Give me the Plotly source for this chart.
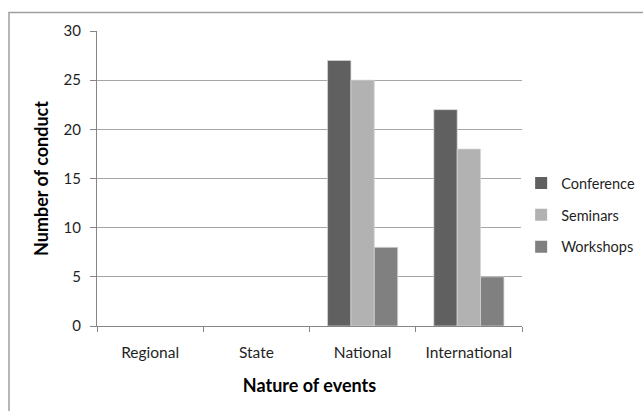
import plotly.graph_objects as go

categories = ["Regional", "State", "National", "International"]
conference = [0, 0, 27, 22]
seminars = [0, 0, 25, 18]
workshops = [0, 0, 8, 5]
y_ticks = [0, 5, 10, 15, 20, 25, 30]

series = [
    ("Conference", conference, "#606060"),
    ("Seminars", seminars, "#b2b2b2"),
    ("Workshops", workshops, "#808080"),
]

FONT = "Lato"
TEXT = "#1f1f1f"

fig = go.Figure()
for name, vals, color in series:
    fig.add_trace(go.Bar(
        name=name, x=categories, y=vals,
        marker=dict(
            color=color,
            line=dict(color="rgba(215,215,215,0.9)",
                      width=[0 if v == 0 else 0.8 for v in vals]),
        ),
        legendgroup=name,
    ))

fig.update_layout(
    width=643, height=411,
    margin=dict(l=97, r=121, t=31, b=85, autoexpand=False),
    paper_bgcolor="white", plot_bgcolor="white",
    barmode="group", bargap=0.34, bargroupgap=0,
    font=dict(family=FONT, size=15, color=TEXT),
    showlegend=True,
    legend=dict(
        x=0.998, y=0.376, xanchor="left", yanchor="middle",
        traceorder="grouped", tracegroupgap=10,
        font=dict(family=FONT, size=14.5, color=TEXT),
        itemwidth=30,
    ),
    xaxis=dict(
        type="category",
        showline=True, linecolor="#868686", linewidth=1,
        ticks="outside", tickson="boundaries", ticklen=5, tickcolor="#868686",
        showgrid=False,
        ticklabelstandoff=12,
        tickfont=dict(family=FONT, size=15.5, color=TEXT),
        title=dict(text="<b>Nature of events</b>", font=dict(family=FONT, size=18, color="black"), standoff=19),
    ),
    yaxis=dict(
        range=[0, 30], tickvals=y_ticks,
        showline=True, linecolor="#868686", linewidth=1,
        ticks="outside", ticklen=6, tickcolor="#868686",
        showgrid=True, gridcolor="#a6a6a6", gridwidth=1,
        zeroline=False,
        ticklabelstandoff=6,
        tickfont=dict(family=FONT, size=15, color=TEXT),
        title=dict(text="<b>Number of conduct</b>", font=dict(family=FONT, size=18, color="black"), standoff=10),
    ),
)

# outer chart frame (left and top edges visible)
fig.add_shape(
    type="rect", xref="paper", yref="paper",
    x0=(9 - 97) / 425, x1=(700 - 97) / 425,
    y0=-0.5, y1=(326 - 12.5) / 295,
    line=dict(color="#a0a0a0", width=1.5), fillcolor="rgba(0,0,0,0)",
    layer="below",
)

fig.write_html("out.html")
